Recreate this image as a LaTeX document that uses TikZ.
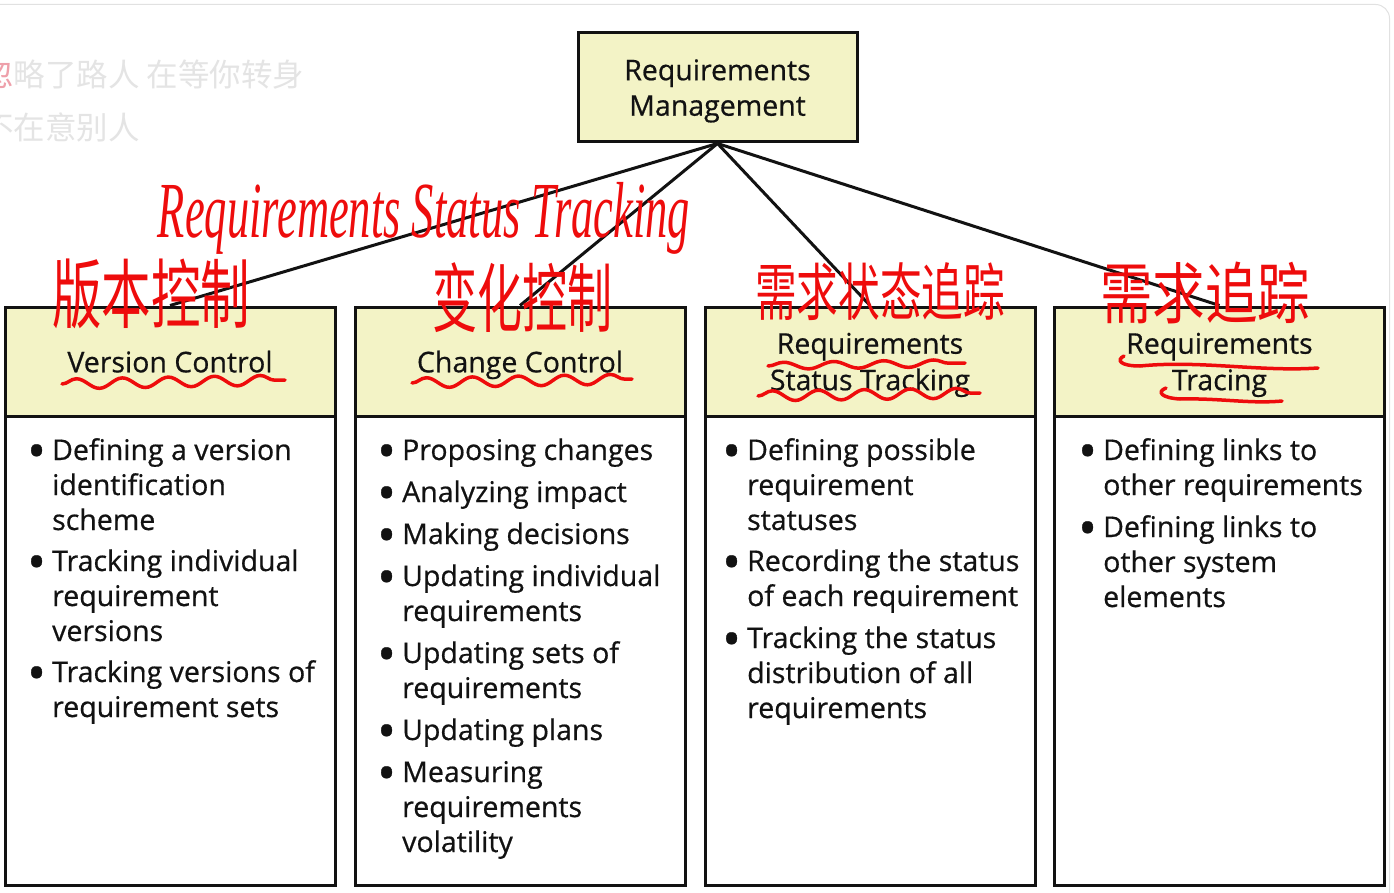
\documentclass[tikz,border=0pt]{standalone}
\usepackage{fontspec}
\usepackage{graphicx}
\setmainfont{Open Sans}[FakeBold=0.6]
\newfontfamily\cjk{Noto Sans CJK SC}
\newfontfamily\hand{Liberation Serif}
\usetikzlibrary{decorations.pathmorphing}

\definecolor{boxyellow}{RGB}{243,243,198}
\definecolor{inkred}{RGB}{238,12,12}
\definecolor{faint}{RGB}{228,228,228}
\definecolor{ghostpink}{RGB}{238,160,170}
\definecolor{ink}{RGB}{18,18,18}
\definecolor{framegray}{RGB}{225,225,225}

\newcommand\bul{\makebox[25pt][l]{\smash{\raisebox{-8.5pt}{\scalebox{1.75}{\textbullet}}}}}
\newcommand\ind{\hspace*{25pt}}

\tikzset{
  topbox/.style={draw=ink, line width=3pt, fill=boxyellow, minimum width=279pt,
    minimum height=109pt, inner sep=0pt, align=center, text=ink, text depth=0pt,
    font=\fontsize{28.5}{35.5}\selectfont},
  headbox/.style={draw=ink, line width=3pt, fill=boxyellow, minimum width=330pt,
    minimum height=109pt, inner sep=0pt, align=center, text=ink, text depth=0pt,
    font=\fontsize{28.5}{36.5}\selectfont},
  bodybox/.style={draw=ink, line width=3pt, fill=white, minimum width=330pt,
    minimum height=469pt, inner sep=0pt},
  bodytext/.style={anchor=base west, inner sep=0pt, text=ink,
    font=\fontsize{28.5}{35}\selectfont},
  link/.style={draw=ink, line width=3pt},
  scrawl/.style={text=inkred, inner sep=0pt},
  wave/.style={draw=inkred, line width=3.5pt, line cap=round, decorate,
    decoration={snake, amplitude=5pt, segment length=46pt}},
  ghost/.style={text=faint, inner sep=0pt, anchor=west,
    font=\cjk\fontsize{31.5}{31.5}\selectfont}
}

\begin{document}
\begin{tikzpicture}[x=1pt, y=-1pt]
\useasboundingbox (0,0) rectangle (1394,893);
\fill[white] (0,0) rectangle (1394,893);

% screenshot frame and faint lyric text
\draw[framegray, line width=1pt, rounded corners=14pt] (0,4.5) -- (1389.5,4.5) -- (1389.5,893);
\begin{scope}
  \clip (0,0) rectangle (1394,893);
  \node[ghost] (lyric1) at (-18,75) {\textcolor{ghostpink}{忽}略了路人 在等你转身};
  \node[ghost] (lyric2) at (-18,127) {不在意别人};
\end{scope}

% top node
\node[topbox] (top) at (717.5,87.5) {Requirements\\Management};

% body boxes
\node[bodybox] (b1) at (170,650.5) {};
\node[bodybox] (b2) at (520,650.5) {};
\node[bodybox] (b3) at (870,650.5) {};
\node[bodybox] (b4) at (1219.5,650.5) {};

% header boxes
\node[headbox] (h1) at (170,361.5) {Version Control};
\node[headbox] (h2) at (520,361.5) {Change Control};
\node[headbox] (h3) at (870,361.5) {Requirements\\Status Tracking};
\node[headbox] (h4) at (1219.5,361.5) {Requirements\\Tracing};

% connectors
\draw[link] (top.south) -- (h1.north);
\draw[link] (top.south) -- (h2.north);
\draw[link] (top.south) -- (h3.north);
\draw[link] (top.south) -- (h4.north);

% body texts
\node[bodytext] (t1) at (27,460) {\parbox[t]{305pt}{%
\bul Defining a version\\\ind identification\\\ind scheme\\[6pt]%
\bul Tracking individual\\\ind requirement\\\ind versions\\[6pt]%
\bul Tracking versions of\\\ind requirement sets}};

\node[bodytext] (t2) at (377,460) {\parbox[t]{305pt}{%
\bul Proposing changes\\[7pt]%
\bul Analyzing impact\\[7pt]%
\bul Making decisions\\[7pt]%
\bul Updating individual\\\ind requirements\\[7pt]%
\bul Updating sets of\\\ind requirements\\[7pt]%
\bul Updating plans\\[7pt]%
\bul Measuring\\\ind requirements\\\ind volatility}};

\node[bodytext] (t3) at (722,460) {\parbox[t]{305pt}{%
\bul Defining possible\\\ind requirement\\\ind statuses\\[6pt]%
\bul Recording the status\\\ind of each requirement\\[7pt]%
\bul Tracking the status\\\ind distribution of all\\\ind requirements}};

\node[bodytext] (t4) at (1078,460) {\parbox[t]{305pt}{%
\bul Defining links to\\\ind other requirements\\[7pt]%
\bul Defining links to\\\ind other system\\\ind elements}};

% handwritten annotations
\node[scrawl] (n0) at (424,218) {\resizebox*{532pt}{72pt}{\hand\itshape Requirements Status Tracking}};
\node[scrawl] (n1) at (151,294) {\resizebox*{198pt}{70pt}{\cjk 版本控制}};
\node[scrawl] (n2) at (522,298) {\resizebox*{180pt}{70pt}{\cjk 变化控制}};
\node[scrawl] (n3) at (880,292) {\resizebox*{250pt}{58pt}{\cjk 需求状态追踪}};
\node[scrawl] (n4) at (1205,293) {\resizebox*{210pt}{62pt}{\cjk 需求追踪}};

% wavy underlines
\draw[wave] (62,384) -- (285,380);
\draw[wave] (412,383) -- (632,379);
\draw[wave, decoration={snake, amplitude=3.5pt, segment length=50pt}] (768,366) -- (965,363);
\draw[wave] (758,396) -- (980,393);
\draw[inkred, line width=3.5pt, line cap=round] (1124,356) .. controls (1116,360) and (1120,366) .. (1140,366)
  .. controls (1200,360) and (1260,372) .. (1318,368);
\draw[inkred, line width=3.5pt, line cap=round] (1166,388) .. controls (1156,392) and (1162,398) .. (1180,399)
  .. controls (1220,398) and (1250,404) .. (1282,401);
\end{tikzpicture}
\end{document}
